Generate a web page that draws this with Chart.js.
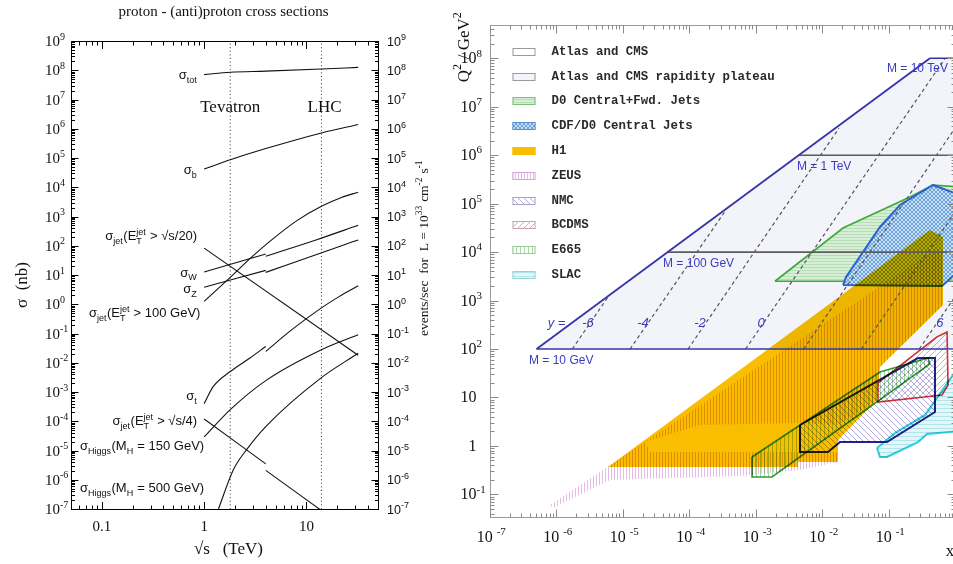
<!DOCTYPE html>
<html>
<head>
<meta charset="utf-8">
<title>proton - (anti)proton cross sections</title>
<script src="https://cdn.jsdelivr.net/npm/chart.js@4.4.1/dist/chart.umd.min.js"></script>
<style>
  html, body { margin: 0; padding: 0; background: #fff; overflow: hidden; }
  body { width: 953px; height: 564px; position: relative; }
  canvas { position: absolute; top: 0; }
  #sigmaChart { left: 0; }
  #kinChart { left: 440px; }
</style>
</head>
<body>
<canvas id="sigmaChart" width="450" height="564"></canvas>
<canvas id="kinChart" width="600" height="564"></canvas>
<script>
const SERIF = '"Liberation Serif", "Times New Roman", serif';
const SANS = '"Liberation Sans", Arial, sans-serif';
const MONO = '"Liberation Mono", "Courier New", monospace';

// ---------- cross sections vs sqrt(s) ----------
const energyTicks = [0.1, 1, 10];
const energyTickLabels = ['0.1', '1', '10'];
const sigmaExponents = [-7, -6, -5, -4, -3, -2, -1, 0, 1, 2, 3, 4, 5, 6, 7, 8, 9];
const tevatronEnergy = 1.8;
const lhcEnergy = 14;

const totE = [1, 1.8, 4, 14, 32];
const totSigma = [7.1e7, 8.5e7, 9.3e7, 1.1e8, 1.25e8];
const bE = [1, 1.8, 4, 14, 32];
const bSigma = [4.2e4, 8.7e4, 2.1e5, 7.2e5, 1.4e6];
const jet20E = [1, 32];
const jet20Sigma = [83, 0.018];
const wE_ppbar = [1, 4];
const wSigma_ppbar = [12.6, 52];
const wE_pp = [4, 12.6, 32];
const wSigma_pp = [44, 161, 500];
const zE_ppbar = [1, 4];
const zSigma_ppbar = [3.8, 14.4];
const zE_pp = [4, 21, 32];
const zSigma_pp = [12.3, 95, 158];
const jet100E = [1, 1.8, 3, 4.6, 8, 14, 22, 32];
const jet100Sigma = [1.26, 8.3, 45, 162, 710, 2240, 4470, 6760];
const topE_ppbar = [1, 1.23, 1.8, 2.8, 4];
const topSigma_ppbar = [4.0e-4, 1.55e-3, 5.0e-3, 1.45e-2, 3.6e-2];
const topE_pp = [4, 7.2, 14, 21, 32];
const topSigma_pp = [0.0245, 0.135, 0.75, 1.86, 4.3];
const jet4E_ppbar = [1, 4];
const jet4Sigma_ppbar = [1.2e-4, 3.5e-6];
const jet4E_pp = [4, 32];
const jet4Sigma_pp = [2.1e-6, 1.1e-8];
const h150E = [1, 1.8, 4.1, 14, 32];
const h150Sigma = [2.9e-5, 2.5e-4, 2.6e-3, 0.028, 0.091];
const h500E = [1.38, 1.93, 2.6, 4, 14, 32];
const h500Sigma = [1e-7, 2.2e-6, 1.07e-5, 6.6e-5, 3.1e-3, 0.021];

// ---------- x - Q2 plane ----------
const xExponents = [-7, -6, -5, -4, -3, -2, -1];
const q2Exponents = [-1, 0, 1, 2, 3, 4, 5, 6, 7, 8];
const lhcX = [5.1e-7, 0.42, 1, 1, 5.1e-7];
const lhcQ2 = [100, 1e8, 1e8, 100, 100];
const massQ2 = [1e8, 1e6, 1e4, 100];
const massStartX = [0.42, 4.5e-3, 4.8e-5, 5.1e-7];
const massLabels = ['M = 10 TeV', 'M = 1 TeV', 'M = 100 GeV', 'M = 10 GeV'];
const rapidities = [-6, -4, -2, 0, 2, 4, 6];
const rapLowX = [1.76e-6, 1.3e-5, 9.7e-5, 7.1e-4, 5.3e-3, 3.9e-2, 0.29];
const rapHighX = [6.1e-6, 3.4e-4, 1.8e-2, 0.71, 1, 1, 1];
const rapHighQ2 = [1.2e3, 6.6e4, 3.6e6, 1e8, 3.6e6, 6.6e4, 1.2e3];

const h1X = [6.05e-6, 0.42, 0.66, 0.66, 0.0745, 0.0671, 0.0174, 0.0174, 4.35e-3, 4.35e-3, 6.05e-6];
const h1Q2 = [0.367, 2.86e4, 2.05e4, 809, 42.5, 8.85, 1.32, 0.466, 0.466, 0.367, 0.367];
const zeusX = [2.18e-5, 0.50, 0.66, 0.66, 0.0745, 0.0671, 0.0174, 4.67e-3, 1.46e-4, 2.18e-5];
const zeusQ2 = [1.20, 1.1e4, 8.7e3, 809, 42.5, 8.85, 2.7, 2.97, 2.7, 1.20];
const zeusLowX = [8.13e-7, 2.18e-5, 2.6e-5, 0.0174, 0.0174, 4.67e-3, 5.85e-4, 6.5e-6, 9.0e-7, 8.13e-7];
const zeusLowQ2 = [0.060, 1.20, 0.75, 0.75, 0.466, 0.318, 0.239, 0.198, 0.052, 0.060];
const d0X = [1.96e-3, 0.0207, 0.21, 0.467, 1.2, 1.2, 1.96e-3];
const d0Q2 = [2.5e3, 3.14e4, 1.37e5, 2.43e5, 2.2e5, 2.5e3, 2.5e3];
const cdfX = [0.0207, 0.023, 0.0745, 0.149, 0.467, 1.19, 1.19, 0.637, 0.0207];
const cdfQ2 = [2.1e3, 3.06e3, 3.3e4, 9.4e4, 2.43e5, 1.5e5, 4.3e3, 2.0e3, 2.1e3];
const nmcX = [4.67e-3, 4.67e-3, 0.0123, 0.0187, 0.095, 0.50, 0.50, 0.278, 4.67e-3];
const nmcQ2 = [2.7, 0.75, 0.75, 1.2, 1.2, 5.0, 65, 65, 2.7];
const bcdmsX = [0.0695, 0.536, 0.76, 0.786, 0.637, 0.0695, 0.0695];
const bcdmsQ2 = [20, 178, 224, 18, 11.2, 8.05, 20];
const e665X = [8.85e-4, 0.0745, 0.393, 0.42, 1.77e-3, 8.85e-4, 8.85e-4];
const e665Q2 = [0.59, 33.5, 65, 49, 0.228, 0.228, 0.59];
const slacX = [0.0671, 0.125, 0.354, 1.0, 1.68, 1.68, 0.38, 0.278, 0.095, 0.0745, 0.0671];
const slacQ2 = [0.906, 1.85, 4.35, 33.5, 33.5, 2.13, 1.76, 1.2, 0.59, 0.59, 0.906];

const legendNames = ['Atlas and CMS', 'Atlas and CMS rapidity plateau', 'D0 Central+Fwd. Jets',
  'CDF/D0 Central Jets', 'H1', 'ZEUS', 'NMC', 'BCDMS', 'E665', 'SLAC'];

// ---------- helpers ----------
function pts(xs, ys) {
  return xs.map((x, i) => ({x: x, y: ys[i]}));
}

function logTicks(min, max) {
  const out = [];
  for (let d = Math.floor(Math.log10(min)); d <= Math.ceil(Math.log10(max)); d++) {
    for (let m = 1; m <= 9; m++) {
      const v = m * Math.pow(10, d);
      if (v >= min * 0.999 && v <= max * 1.001) out.push([v, m === 1]);
    }
  }
  return out;
}

function seg(ctx, x1, y1, x2, y2) {
  ctx.beginPath();
  ctx.moveTo(x1, y1);
  ctx.lineTo(x2, y2);
  ctx.stroke();
}

// text with sub/superscripts: parts are {t}, {sub}, {sup} or {sub, sup}
function drawRich(ctx, parts, x, y, align, size, family, color, small) {
  const smallSize = small || size * 0.68;
  const big = size + 'px ' + family;
  const sm = smallSize.toFixed(1) + 'px ' + family;
  const widths = parts.map(p => {
    if (p.t !== undefined) { ctx.font = big; return ctx.measureText(p.t).width; }
    ctx.font = sm;
    return Math.max(p.sub ? ctx.measureText(p.sub).width : 0, p.sup ? ctx.measureText(p.sup).width : 0) + 0.5;
  });
  const total = widths.reduce((s, v) => s + v, 0);
  let cx = align === 'right' ? x - total : align === 'center' ? x - total / 2 : x;
  ctx.fillStyle = color;
  ctx.textAlign = 'left';
  ctx.textBaseline = 'alphabetic';
  parts.forEach((p, i) => {
    if (p.t !== undefined) {
      ctx.font = big;
      ctx.fillText(p.t, cx, y);
    } else {
      ctx.font = sm;
      if (p.sub) ctx.fillText(p.sub, cx, y + size * 0.3);
      if (p.sup) ctx.fillText(p.sup, cx, y - size * 0.42);
    }
    cx += widths[i];
  });
  return total;
}

// base number followed by a raised exponent; the base ends at baseRight
function drawPower(ctx, base, exp, baseRight, y, size, small, family, color) {
  ctx.font = size + 'px ' + family;
  const w = ctx.measureText(base).width;
  const parts = exp === null ? [{t: base}] : [{t: base}, {sup: exp}];
  drawRich(ctx, parts, baseRight - w, y, 'left', size, family, color, small);
}

function stripes(bg, ink, n, dir) {
  const c = document.createElement('canvas');
  c.width = c.height = n;
  const g = c.getContext('2d');
  g.fillStyle = bg;
  g.fillRect(0, 0, n, n);
  g.fillStyle = ink;
  g.strokeStyle = ink;
  g.lineWidth = 1;
  if (dir === 'v') g.fillRect(0, 0, 1, n);
  if (dir === 'h') g.fillRect(0, 0, n, 1);
  if (dir === 'f' || dir === 'x') { g.beginPath(); g.moveTo(0, n); g.lineTo(n, 0); g.stroke(); }
  if (dir === 'b' || dir === 'x') { g.beginPath(); g.moveTo(0, 0); g.lineTo(n, n); g.stroke(); }
  return g.createPattern(c, 'repeat');
}

// ---------- left chart ----------
const sigmaCurves = [
  [totE, totSigma], [bE, bSigma], [jet20E, jet20Sigma],
  [wE_ppbar, wSigma_ppbar], [wE_pp, wSigma_pp], [zE_ppbar, zSigma_ppbar], [zE_pp, zSigma_pp],
  [jet100E, jet100Sigma], [topE_ppbar, topSigma_ppbar], [topE_pp, topSigma_pp],
  [jet4E_ppbar, jet4Sigma_ppbar], [jet4E_pp, jet4Sigma_pp], [h150E, h150Sigma], [h500E, h500Sigma]
];
const sigmaDatasets = sigmaCurves.map(([e, s]) => ({
  data: pts(e, s), borderColor: '#111', borderWidth: 1.1, pointRadius: 0, fill: false,
  cubicInterpolationMode: 'monotone'
}));
[tevatronEnergy, lhcEnergy].forEach(e => sigmaDatasets.push({
  data: pts([e, e], [1e-7, 1e9]), borderColor: '#333', borderWidth: 1, borderDash: [1, 2.6],
  pointRadius: 0, fill: false
}));

const sigmaLabels = [
  {parts: [{t: 'σ'}, {sub: 'tot'}], x: 0.855, y: 7.1e7},
  {parts: [{t: 'σ'}, {sub: 'b'}], x: 0.855, y: 4.0e4},
  {parts: [{t: 'σ'}, {sub: 'jet'}, {t: '(E'}, {sub: 'T', sup: 'jet'}, {t: ' > √s/20)'}], x: 0.855, y: 224},
  {parts: [{t: 'σ'}, {sub: 'W'}], x: 0.855, y: 12.6},
  {parts: [{t: 'σ'}, {sub: 'Z'}], x: 0.855, y: 3.4},
  {parts: [{t: 'σ'}, {sub: 'jet'}, {t: '(E'}, {sub: 'T', sup: 'jet'}, {t: ' > 100 GeV)'}], x: 0.92, y: 0.51},
  {parts: [{t: 'σ'}, {sub: 't'}], x: 0.855, y: 7.4e-4},
  {parts: [{t: 'σ'}, {sub: 'jet'}, {t: '(E'}, {sub: 'T', sup: 'jet'}, {t: ' > √s/4)'}], x: 0.855, y: 1.05e-4},
  {parts: [{t: 'σ'}, {sub: 'Higgs'}, {t: '(M'}, {sub: 'H'}, {t: ' = 150 GeV)'}], x: 1.0, y: 1.48e-5},
  {parts: [{t: 'σ'}, {sub: 'Higgs'}, {t: '(M'}, {sub: 'H'}, {t: ' = 500 GeV)'}], x: 1.0, y: 5.4e-7}
];

const sigmaDecor = {
  id: 'sigmaDecor',
  afterDatasetsDraw(chart) {
    const {ctx, chartArea: a, scales: {x, y}} = chart;
    ctx.save();
    ctx.strokeStyle = '#000';
    ctx.lineWidth = 1;
    const L = Math.round(a.left) + 0.5, R = Math.round(a.right) + 0.5;
    const T = Math.round(a.top) + 0.5, B = Math.round(a.bottom) + 0.5;
    ctx.strokeRect(L, T, R - L, B - T);

    logTicks(y.min, y.max).forEach(([v, major]) => {
      const p = Math.round(y.getPixelForValue(v)) + 0.5;
      const len = major ? 7 : 3.5;
      seg(ctx, L, p, L + len, p);
      seg(ctx, R, p, R - len, p);
    });
    logTicks(x.min, x.max).forEach(([v, major]) => {
      const p = Math.round(x.getPixelForValue(v)) + 0.5;
      const len = major ? 7.5 : 4;
      seg(ctx, p, T, p, T + len);
      seg(ctx, p, B, p, B - len);
    });

    sigmaExponents.forEach(e => {
      const p = y.getPixelForValue(Math.pow(10, e));
      drawPower(ctx, '10', String(e), a.left - 11, p + 5, 15, 10, SERIF, '#111');
      drawRich(ctx, [{t: '10'}, {sup: String(e)}], a.right + 9, p + 4.5, 'left', 12.5, SANS, '#111', 9);
    });
    energyTicks.forEach((v, i) => {
      ctx.font = '15px ' + SERIF;
      ctx.fillStyle = '#111';
      ctx.textAlign = 'center';
      ctx.textBaseline = 'alphabetic';
      ctx.fillText(energyTickLabels[i], x.getPixelForValue(v), a.bottom + 22);
    });

    // curve labels
    sigmaLabels.forEach(l => {
      drawRich(ctx, l.parts, x.getPixelForValue(l.x), y.getPixelForValue(l.y) + 4.5, 'right', 13, SANS, '#111', 9);
    });

    ctx.font = '17px ' + SERIF;
    ctx.fillStyle = '#111';
    ctx.textAlign = 'center';
    ctx.textBaseline = 'middle';
    ctx.fillText('Tevatron', x.getPixelForValue(tevatronEnergy), y.getPixelForValue(5.2e6));
    ctx.fillText('LHC', x.getPixelForValue(15), y.getPixelForValue(5.2e6));

    ctx.textBaseline = 'alphabetic';
    ctx.font = '15px ' + SERIF;
    ctx.fillText('proton - (anti)proton cross sections', (a.left + a.right) / 2 - 1, 16);
    ctx.font = '17px ' + SERIF;
    ctx.fillText('√s   (TeV)', (a.left + a.right) / 2 + 4, a.bottom + 45);

    ctx.save();
    ctx.translate(a.left - 50, (a.top + a.bottom) / 2 + 10);
    ctx.rotate(-Math.PI / 2);
    drawRich(ctx, [{t: 'σ  (nb)'}], 0, 6, 'center', 17, SERIF, '#111');
    ctx.restore();

    ctx.save();
    ctx.translate(a.right + 45, 248);
    ctx.rotate(-Math.PI / 2);
    drawRich(ctx, [{t: 'events/sec  for  L = 10'}, {sup: '33'}, {t: ' cm'}, {sup: '-2'}, {t: ' s'}, {sup: '-1'}],
      0, 4.5, 'center', 13.5, SERIF, '#111', 9.5);
    ctx.restore();
    ctx.restore();
  }
};

new Chart(document.getElementById('sigmaChart'), {
  type: 'line',
  data: {datasets: sigmaDatasets},
  options: {
    responsive: false,
    animation: false,
    events: [],
    layout: {padding: {left: 71, right: 72, top: 41, bottom: 55}},
    scales: {
      x: {type: 'logarithmic', min: 0.05, max: 50, display: false},
      y: {type: 'logarithmic', min: 1e-7, max: 1e9, display: false}
    },
    plugins: {legend: {display: false}, tooltip: {enabled: false}}
  },
  plugins: [sigmaDecor]
});

// ---------- right chart ----------
const fills = {
  lhc: '#f3f3fa',
  h1: '#fabe00',
  zeus: stripes('#ffffff', '#e6bce6', 3, 'v'),
  d0: stripes('#d6efd6', '#b6deb6', 3, 'h'),
  cdf: stripes('#c6e3f4', '#6f9fdc', 4, 'x'),
  nmc: stripes('#ffffff', '#b4acd8', 6, 'b'),
  bcdms: stripes('#ffffff', '#e4a6b4', 6, 'f'),
  e665: stripes('#ffffff', '#a8d8a8', 4, 'v'),
  slac: stripes('#e4f7f8', '#b2e4ea', 4, 'h')
};

// blend: 'multiply' lets a region show whatever lies underneath
function region(xs, qs, bg, border, width, blend) {
  return {
    data: pts(xs, qs), backgroundColor: bg, fill: 'shape', tension: 0, pointRadius: 0,
    borderColor: border || 'rgba(0,0,0,0)', borderWidth: border ? (width || 1.5) : 0,
    blend: blend || 'source-over'
  };
}
function path(xs, qs, color, width, dash) {
  return {data: pts(xs, qs), borderColor: color, borderWidth: width, borderDash: dash || [],
    fill: false, tension: 0, pointRadius: 0};
}

// listed bottom to top
const kinDatasets = [
  region(lhcX, lhcQ2, fills.lhc),
  region(d0X, d0Q2, fills.d0, '#3caa3c', 1.6),
  region(cdfX, cdfQ2, fills.cdf, '#2a62d0', 2),
  region(h1X, h1Q2, fills.h1, null, 0, 'multiply'),
  region(zeusX, zeusQ2, fills.zeus, null, 0, 'multiply'),
  region(zeusLowX, zeusLowQ2, fills.zeus, null, 0, 'multiply'),
  region(nmcX, nmcQ2, fills.nmc, '#22228a', 2, 'multiply'),
  region(e665X, e665Q2, fills.e665, '#30a030', 1.6, 'multiply'),
  region(bcdmsX, bcdmsQ2, fills.bcdms, '#d83030', 1.6, 'multiply'),
  region(slacX, slacQ2, fills.slac, '#2ed0e0', 2, 'multiply')
];
rapidities.forEach((r, i) => {
  kinDatasets.push(path([rapLowX[i], rapHighX[i]], [100, rapHighQ2[i]], '#555', 1.2, [3.5, 3]));
});
massQ2.forEach((q, i) => {
  const blue = i === 0 || i === 3;
  kinDatasets.push(path([massStartX[i], 1], [q, q], blue ? '#3535a8' : '#5c5c5c', 1.6));
});
kinDatasets.push(path(lhcX.slice(0, 2), lhcQ2.slice(0, 2), '#3535a8', 1.8));
kinDatasets.forEach((d, i) => { d.order = kinDatasets.length - i; });

const legendSwatches = [
  {fill: '#ffffff', stroke: '#9a9a9a'},
  {fill: fills.lhc, stroke: '#9a9a9a'},
  {fill: fills.d0, stroke: '#77c077'},
  {fill: fills.cdf, stroke: '#5b8bd0'},
  {fill: fills.h1, stroke: '#fabe00'},
  {fill: fills.zeus, stroke: '#d6a6d6'},
  {fill: fills.nmc, stroke: '#a8a4c8'},
  {fill: fills.bcdms, stroke: '#cfa0a8'},
  {fill: fills.e665, stroke: '#98c898'},
  {fill: fills.slac, stroke: '#98d0d6'}
];

const massLabelAt = [[0.095, 6.0e7], [4.2e-3, 5.7e5], [4.07e-5, 5.7e3], [3.93e-7, 56.5]];
const rapLabels = [['y =', 1.02e-6], ['-6', 3.03e-6], ['-4', 2.03e-5], ['-2', 1.46e-4], ['0', 1.21e-3], ['6', 0.594]];

// composite mode of the dataset drawn at position pos (0 = first, bottom-most)
function blendAt(chart, pos) {
  const metas = chart.getSortedVisibleDatasetMetas();
  const meta = metas[metas.length - 1 - pos];
  return (meta && chart.data.datasets[meta.index].blend) || 'source-over';
}

const kinDecor = {
  id: 'kinDecor',
  beforeDatasetsDraw(chart) {
    chart.ctx.globalCompositeOperation = blendAt(chart, 0);
  },
  afterDatasetDraw(chart, args) {
    const metas = chart.getSortedVisibleDatasetMetas();
    const pos = metas.length - 1 - metas.indexOf(args.meta);
    chart.ctx.globalCompositeOperation = blendAt(chart, pos + 1);
  },
  afterDatasetsDraw(chart) {
    const {ctx, chartArea: a, scales: {x, y}} = chart;
    ctx.globalCompositeOperation = 'source-over';
    ctx.save();
    const L = Math.round(a.left) + 0.5, R = Math.round(a.right) + 0.5;
    const T = Math.round(a.top) + 0.5, B = Math.round(a.bottom) + 0.5;
    ctx.strokeStyle = '#9a9a9a';
    ctx.lineWidth = 1;
    ctx.strokeRect(L, T, R - L, B - T);
    ctx.strokeStyle = '#8a8a8a';
    logTicks(y.min, y.max).forEach(([v, major]) => {
      const p = Math.round(y.getPixelForValue(v)) + 0.5;
      const len = major ? 8 : 4;
      seg(ctx, L, p, L + len, p);
      seg(ctx, R, p, R - len, p);
    });
    logTicks(x.min, x.max).forEach(([v, major]) => {
      const p = Math.round(x.getPixelForValue(v)) + 0.5;
      const len = major ? 8 : 4;
      seg(ctx, p, T, p, T + len);
      seg(ctx, p, B, p, B - len);
    });

    q2Exponents.forEach(e => {
      const p = y.getPixelForValue(Math.pow(10, e));
      const base = e === 0 ? '1' : '10';
      const exp = (e === 0 || e === 1) ? null : String(e);
      drawPower(ctx, base, exp, a.left - 13, p + 5, 16, 11, SERIF, '#111');
    });
    xExponents.forEach(e => {
      const p = x.getPixelForValue(Math.pow(10, e));
      drawRich(ctx, [{t: '10'}, {t: ' '}, {sup: String(e)}], p + 2, a.bottom + 24.5, 'center', 16, SERIF, '#111', 11);
    });
    ctx.font = '17px ' + SERIF;
    ctx.fillStyle = '#111';
    ctx.textAlign = 'center';
    ctx.fillText('x', x.getPixelForValue(0.84), a.bottom + 39);

    ctx.save();
    ctx.translate(a.left - 27, 47);
    ctx.rotate(-Math.PI / 2);
    drawRich(ctx, [{t: 'Q'}, {sup: '2'}, {t: ' / GeV'}, {sup: '2'}], 0, 6, 'center', 17, SERIF, '#111', 12);
    ctx.restore();

    // mass and rapidity labels
    ctx.fillStyle = '#3b3bc0';
    ctx.textAlign = 'left';
    ctx.textBaseline = 'middle';
    ctx.font = '12px ' + SANS;
    massLabels.forEach((t, i) => {
      ctx.fillText(t, x.getPixelForValue(massLabelAt[i][0]), y.getPixelForValue(massLabelAt[i][1]));
    });
    ctx.font = 'italic 13px ' + SANS;
    ctx.textAlign = 'center';
    rapLabels.forEach(([t, xv]) => {
      ctx.fillText(t, x.getPixelForValue(xv), y.getPixelForValue(344));
    });

    // legend
    const sx = a.left + 23, tx = a.left + 62;
    legendNames.forEach((name, i) => {
      const yy = a.top + 26.7 + i * 24.8;
      const s = legendSwatches[i];
      ctx.fillStyle = s.fill;
      ctx.fillRect(sx, Math.round(yy - 4), 23, 8);
      ctx.strokeStyle = s.stroke;
      ctx.strokeRect(sx + 0.5, Math.round(yy - 4) + 0.5, 22, 7);
      ctx.fillStyle = '#2a2a2a';
      ctx.font = 'bold 12.4px ' + MONO;
      ctx.textAlign = 'left';
      ctx.textBaseline = 'middle';
      ctx.fillText(name, tx, yy);
    });
    ctx.restore();
  }
};

new Chart(document.getElementById('kinChart'), {
  type: 'line',
  data: {datasets: kinDatasets},
  options: {
    responsive: false,
    animation: false,
    events: [],
    layout: {padding: {left: 49.5, right: 85, top: 25, bottom: 46.7}},
    scales: {
      x: {type: 'logarithmic', min: 1e-7, max: 1, display: false},
      y: {type: 'logarithmic', min: 0.0336, max: 4.86e8, display: false}
    },
    plugins: {legend: {display: false}, tooltip: {enabled: false}}
  },
  plugins: [kinDecor]
});
</script>
</body>
</html>
